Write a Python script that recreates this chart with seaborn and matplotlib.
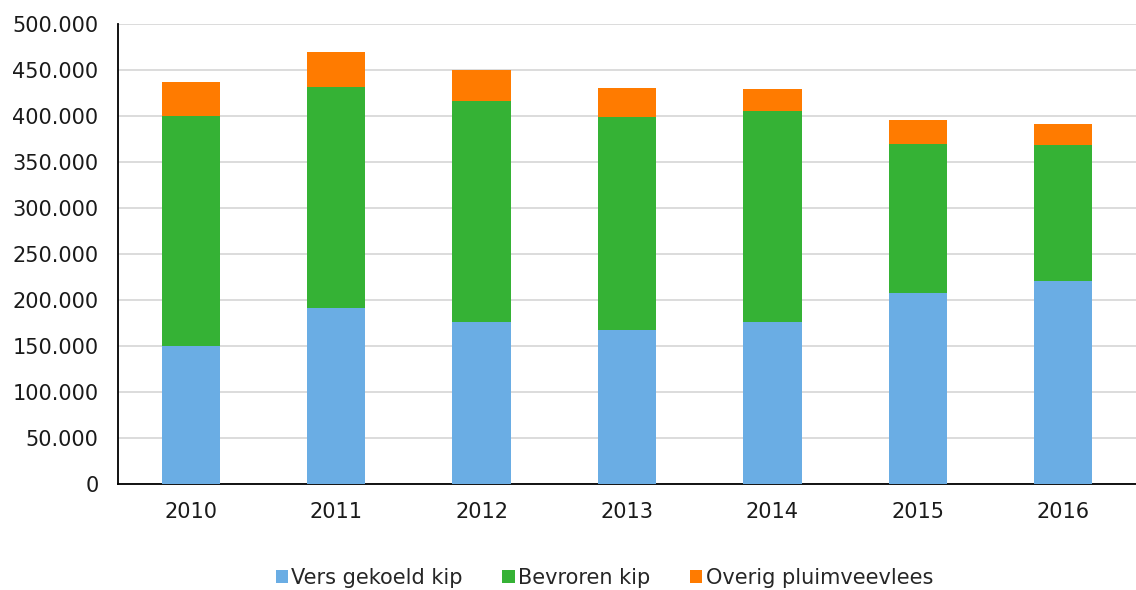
import matplotlib
matplotlib.use("Agg")
import matplotlib.pyplot as plt
from matplotlib.ticker import FuncFormatter
from matplotlib.patches import Patch
import seaborn as sns
import pandas as pd
import numpy as np

years = ["2010", "2011", "2012", "2013", "2014", "2015", "2016"]
vers_gekoeld = [150000, 191000, 176000, 167000, 176000, 208000, 221000]
bevroren = [250000, 240000, 240000, 232000, 229000, 162000, 147000]
overig = [37000, 39000, 34000, 31000, 24000, 26000, 23000]

labels = ["Vers gekoeld kip", "Bevroren kip", "Overig pluimveevlees"]
colors = ["#6AADE4", "#35B235", "#FF7B00"]

sns.set_theme(style="white")
plt.rcParams["font.family"] = ["DejaVu Sans"]

df = pd.DataFrame({
    "jaar": years,
    "vers": vers_gekoeld,
    "bevroren": bevroren,
    "overig": overig,
})
df["cum_green"] = df["vers"] + df["bevroren"]
df["cum_total"] = df["cum_green"] + df["overig"]

fig = plt.figure(figsize=(11.36, 5.90), dpi=100)
ax = fig.add_axes([118 / 1136, 1 - 484 / 590, (1136 - 118) / 1136, (484 - 24) / 590])

# stacked bars: draw cumulative totals from the top layer down
for col, c in [("cum_total", colors[2]), ("cum_green", colors[1]), ("vers", colors[0])]:
    sns.barplot(data=df, x="jaar", y=col, color=c, width=0.4, saturation=1,
                ax=ax, zorder=3, linewidth=0)

ax.set_ylim(0, 500000)
ax.set_xlim(-0.5, len(years) - 0.5)
ax.set_yticks(np.arange(0, 500001, 50000))
ax.yaxis.set_major_formatter(FuncFormatter(lambda v, p: f"{int(v):,}".replace(",", ".")))
ax.grid(axis="y", color="#D9D9D9", linewidth=1.3, zorder=0)
ax.set_xlabel("")
ax.set_ylabel("")
ax.tick_params(axis="both", length=0, labelsize=15, colors="#1a1a1a")
ax.tick_params(axis="x", pad=13)
ax.tick_params(axis="y", pad=14)

for s in ["top", "right"]:
    ax.spines[s].set_visible(False)
for s in ["left", "bottom"]:
    ax.spines[s].set_color("black")
    ax.spines[s].set_linewidth(1.3)

handles = [Patch(facecolor=c, edgecolor="none") for c in colors]
fig.legend(handles, labels, loc="center", bbox_to_anchor=(0.532, 1 - 578 / 590), ncol=3,
           frameon=False, fontsize=15, handlelength=0.6, handleheight=0.6,
           handletextpad=0.15, columnspacing=1.9)

fig.savefig("out.png", dpi=100)
